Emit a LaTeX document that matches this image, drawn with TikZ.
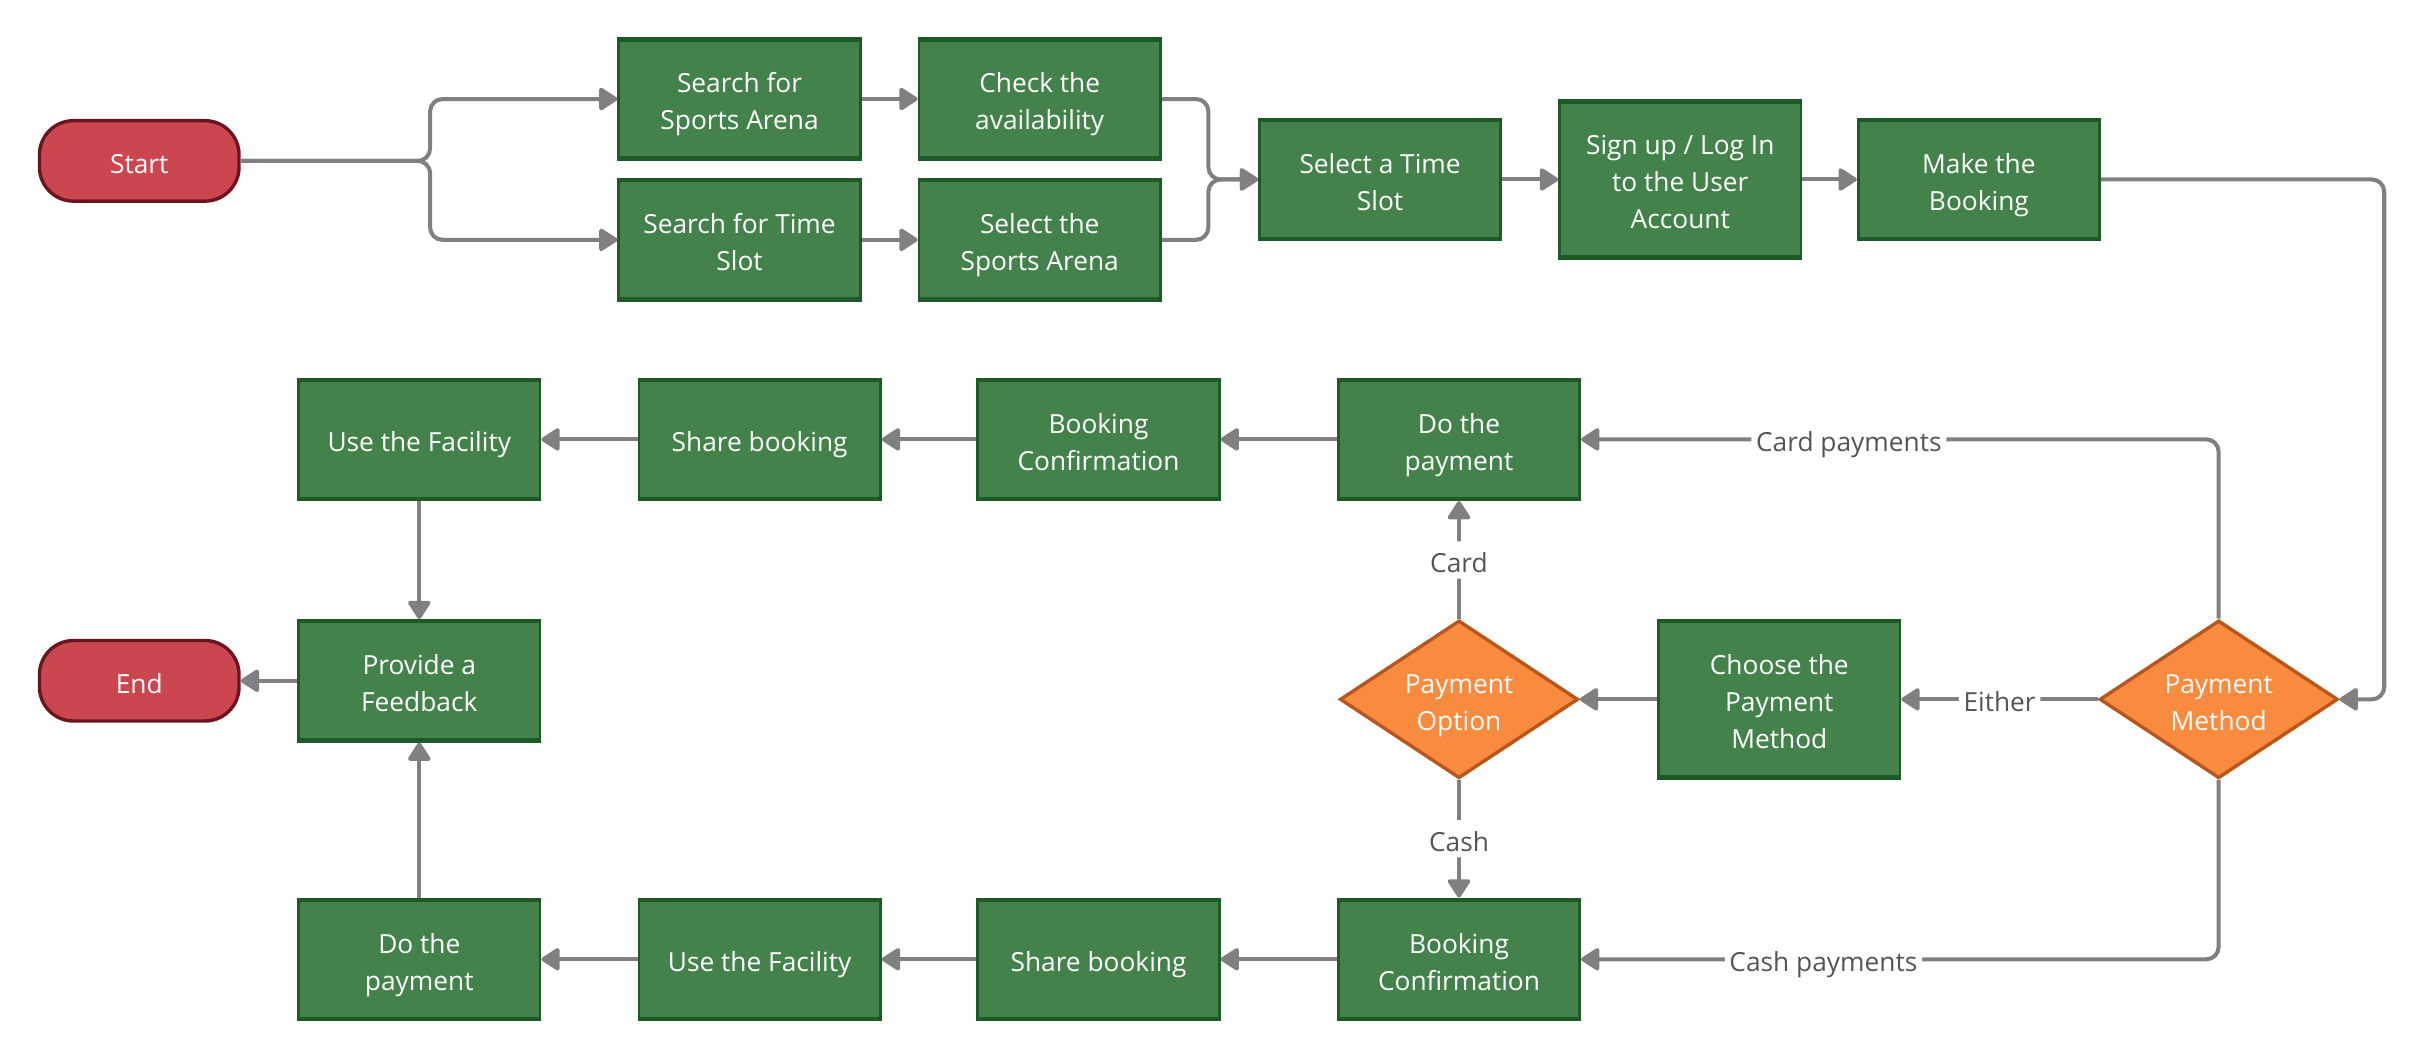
\documentclass[tikz,border=0pt]{standalone}
\usepackage{fontspec}
\setmainfont{Open Sans}
\usetikzlibrary{shapes.geometric,arrows.meta}

\definecolor{boxgreen}{HTML}{43834B}
\definecolor{boxline}{HTML}{1E5A28}
\definecolor{termred}{HTML}{CC4650}
\definecolor{termline}{HTML}{6A1520}
\definecolor{decorange}{HTML}{F98B3F}
\definecolor{decline}{HTML}{B8561C}
\definecolor{conngray}{HTML}{808080}
\definecolor{lblgray}{HTML}{555555}

\newcommand\boxfont{\fontsize{17}{24}\selectfont}
% line struts, so that text sits in the middle of its 24pt lines
\newcommand\tstrut{\rule{0pt}{20pt}}
\newcommand\bstrut{\rule[-4pt]{0pt}{4pt}}

\tikzset{
  stepbox/.style={rectangle, draw=boxline, line width=1.8pt, fill=boxgreen,
    text=white, minimum width=156pt, minimum height=78pt, align=center,
    font=\boxfont, inner sep=2pt,
    path picture={\draw[boxline, line width=3.8pt]
      (path picture bounding box.north west) -- (path picture bounding box.north east)
      (path picture bounding box.south west) -- (path picture bounding box.south east);}},
  termbox/.style={rectangle, rounded corners=22pt, draw=termline, line width=2.2pt,
    fill=termred, text=white, minimum width=129pt, minimum height=52pt,
    font=\boxfont},
  decbox/.style={diamond, draw=decline, line width=2.2pt, fill=decorange,
    text=white, minimum width=154pt, minimum height=102pt, aspect=1.51,
    inner sep=0pt, align=center, font=\boxfont},
  conn/.style={draw=conngray, line width=2.6pt, rounded corners=8pt,
    -{Triangle[length=13pt,width=16pt,round]}},
  lbl/.style={fill=white, text=lblgray, font=\boxfont, inner xsep=3pt, inner ysep=0pt}
}

\begin{document}
\begin{tikzpicture}[x=1pt, y=-1pt]
  \useasboundingbox (0,0) rectangle (1568,685);

  % top row
  \node[termbox] (start) at (90,104) {\tstrut Start\bstrut};
  \node[stepbox] (srcharena) at (478,64) {\tstrut Search for\\Sports Arena\bstrut};
  \node[stepbox] (checkav) at (672,64) {\tstrut Check the\\availability\bstrut};
  \node[stepbox] (srchslot) at (478,155) {\tstrut Search for Time\\Slot\bstrut};
  \node[stepbox] (selarena) at (672,155) {\tstrut Select the\\Sports Arena\bstrut};
  \node[stepbox] (selslot) at (892,116) {\tstrut Select a Time\\Slot\bstrut};
  \node[stepbox, minimum height=102pt] (login) at (1086,116) {\tstrut Sign up / Log In\\to the User\\Account\bstrut};
  \node[stepbox] (makebook) at (1279,116) {\tstrut Make the\\Booking\bstrut};

  % card row
  \node[stepbox] (useone) at (271,284) {\tstrut Use the Facility\bstrut};
  \node[stepbox] (shareone) at (491,284) {\tstrut Share booking\bstrut};
  \node[stepbox] (confone) at (710,284) {\tstrut Booking\\Confirmation\bstrut};
  \node[stepbox] (payone) at (943,284) {\tstrut Do the\\payment\bstrut};

  % middle row
  \node[termbox] (end) at (90,440) {\tstrut End\bstrut};
  \node[stepbox] (feedback) at (271,440) {\tstrut Provide a\\Feedback\bstrut};
  \node[decbox] (payopt) at (943,452) {\tstrut Payment\\Option\bstrut};
  \node[stepbox, minimum height=102pt] (choose) at (1150,452) {\tstrut Choose the\\Payment\\Method\bstrut};
  \node[decbox] (paymeth) at (1434,452) {\tstrut Payment\\Method\bstrut};

  % cash row
  \node[stepbox] (paytwo) at (271,620) {\tstrut Do the\\payment\bstrut};
  \node[stepbox] (usetwo) at (491,620) {\tstrut Use the Facility\bstrut};
  \node[stepbox] (sharetwo) at (710,620) {\tstrut Share booking\bstrut};
  \node[stepbox] (conftwo) at (943,620) {\tstrut Booking\\Confirmation\bstrut};

  % connectors
  \draw[conn] (start.east) -- (278,104) -- (278,64) -- (srcharena.west);
  \draw[conn] (start.east) -- (278,104) -- (278,155) -- (srchslot.west);
  \draw[conn] (srcharena) -- (checkav);
  \draw[conn] (srchslot) -- (selarena);
  \draw[conn] (checkav.east) -- (781,64) -- (781,116) -- (selslot.west);
  \draw[conn] (selarena.east) -- (781,155) -- (781,116) -- (selslot.west);
  \draw[conn] (selslot) -- (login);
  \draw[conn] (login) -- (makebook);
  \draw[conn] (makebook.east) -- (1541,116) -- (1541,452) -- (paymeth.east);

  \draw[conn] (paymeth.north) |- node[lbl, pos=0.79] {\tstrut Card payments\bstrut} (payone.east);
  \draw[conn] (paymeth) -- node[lbl] {\tstrut Either\bstrut} (choose);
  \draw[conn] (choose) -- (payopt);
  \draw[conn] (payopt) -- node[lbl] {\tstrut Card\bstrut} (payone);
  \draw[conn] (payopt) -- node[lbl] {\tstrut Cash\bstrut} (conftwo);
  \draw[conn] (paymeth.south) |- node[lbl, pos=0.81] {\tstrut Cash payments\bstrut} (conftwo.east);

  \draw[conn] (payone) -- (confone);
  \draw[conn] (confone) -- (shareone);
  \draw[conn] (shareone) -- (useone);
  \draw[conn] (useone) -- (feedback);

  \draw[conn] (conftwo) -- (sharetwo);
  \draw[conn] (sharetwo) -- (usetwo);
  \draw[conn] (usetwo) -- (paytwo);
  \draw[conn] (paytwo) -- (feedback);
  \draw[conn] (feedback) -- (end);
\end{tikzpicture}
\end{document}
